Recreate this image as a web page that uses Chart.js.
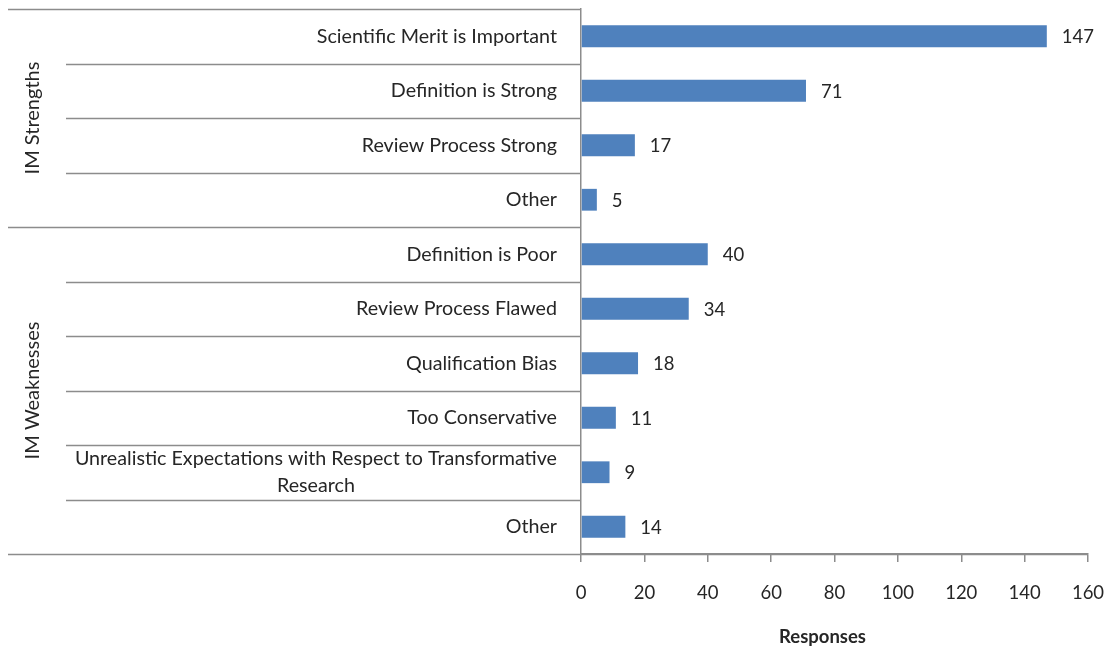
<!DOCTYPE html>
<html>
<head>
<meta charset="utf-8">
<script src="https://cdn.jsdelivr.net/npm/chart.js@4/dist/chart.umd.min.js"></script>
<style>
  html, body { margin: 0; padding: 0; background: #fff; }
  #wrap { width: 1107px; height: 648px; }
</style>
</head>
<body>
<div id="wrap"><canvas id="myChart"></canvas></div>
<script>
const categories = [
  'Scientific Merit is Important',
  'Definition is Strong',
  'Review Process Strong',
  'Other',
  'Definition is Poor',
  'Review Process Flawed',
  'Qualification Bias',
  'Too Conservative',
  ['Unrealistic Expectations with Respect to Transformative', 'Research'],
  'Other'
]
const responses = [147, 71, 17, 5, 40, 34, 18, 11, 9, 14]
const groups = ['IM Strengths', 'IM Weaknesses']
const groupSizes = [4, 6]
const xTicks = { min: 0, max: 160, step: 20 }
const xTitle = 'Responses'

const FONT = 'Lato, "Open Sans", sans-serif'
const TEXT = '#262626'
const LINE = '#8c8c8c'

// draws the category labels, the separator lines, group labels and bar values
const excelAxis = {
  id: 'excelAxis',
  afterDraw (chart) {
    const { ctx, chartArea } = chart
    const y = chart.scales.y
    const half = (y.getPixelForValue(1) - y.getPixelForValue(0)) / 2
    const leftEdge = 8
    const innerEdge = 66

    ctx.save()
    ctx.strokeStyle = LINE
    ctx.lineWidth = 1.5

    // group start indices
    const starts = []
    let s = 0
    groupSizes.forEach(n => { starts.push(s); s += n })

    for (let i = 0; i <= categories.length; i++) {
      const py = Math.round(y.getPixelForValue(i) - half) + 0.5
      const x0 = (starts.includes(i) || i === categories.length) ? leftEdge : innerEdge
      const x1 = i === categories.length ? chartArea.right : chartArea.left
      ctx.beginPath()
      ctx.moveTo(x0, py)
      ctx.lineTo(x1, py)
      ctx.stroke()
    }

    // category labels
    ctx.fillStyle = TEXT
    ctx.font = '19.7px ' + FONT
    ctx.textBaseline = 'middle'
    const labelRight = chartArea.left - 24
    categories.forEach((c, i) => {
      const cy = y.getPixelForValue(i)
      if (Array.isArray(c)) {
        const lh = 27
        const w = Math.max(...c.map(t => ctx.measureText(t).width))
        const cx = labelRight - w / 2
        ctx.textAlign = 'center'
        c.forEach((t, k) => {
          ctx.fillText(t, cx, cy + (k - (c.length - 1) / 2) * lh)
        })
      } else {
        ctx.textAlign = 'right'
        ctx.fillText(c, labelRight, cy)
      }
    })

    // group labels, rotated
    ctx.font = '20px ' + FONT
    starts.forEach((st, g) => {
      const top = y.getPixelForValue(st) - half
      const bottom = y.getPixelForValue(st + groupSizes[g] - 1) + half
      ctx.save()
      ctx.translate(33, (top + bottom) / 2)
      ctx.rotate(-Math.PI / 2)
      ctx.textAlign = 'center'
      ctx.fillText(groups[g], 0, 0)
      ctx.restore()
    })

    // value labels
    ctx.font = '18.5px ' + FONT
    const meta = chart.getDatasetMeta(0)
    ctx.textAlign = 'left'
    meta.data.forEach((bar, i) => {
      ctx.fillText(String(responses[i]), bar.x + 15, bar.y + 1)
    })

    // axis title, centred a little left of the plot centre as in the original
    ctx.font = 'bold 18.5px ' + FONT
    ctx.textAlign = 'center'
    ctx.fillText(xTitle, (chartArea.left + chartArea.right) / 2 - 12, 637)
    ctx.restore()
  }
}

new Chart(document.getElementById('myChart'), {
  type: 'bar',
  data: {
    labels: categories,
    datasets: [{
      data: responses,
      backgroundColor: '#4f81bd',
      borderWidth: 0,
      categoryPercentage: 1,
      barPercentage: 0.4
    }]
  },
  options: {
    indexAxis: 'y',
    responsive: true,
    maintainAspectRatio: false,
    animation: false,
    layout: { padding: { top: 9, right: 19, left: 0, bottom: 0 } },
    plugins: {
      legend: { display: false },
      tooltip: { enabled: false }
    },
    scales: {
      x: {
        min: xTicks.min,
        max: xTicks.max,
        ticks: {
          stepSize: xTicks.step,
          color: TEXT,
          padding: 20,
          font: { family: FONT, size: 18.5 }
        },
        grid: {
          drawOnChartArea: false,
          drawTicks: true,
          tickLength: 8,
          color: LINE,
          lineWidth: 1.5
        },
        border: { display: true, color: LINE, width: 1.5 },
        afterFit (scale) {
          scale.height = 94
          scale.paddingLeft = 0
          scale.paddingRight = 0
        }
      },
      y: {
        ticks: { display: false },
        grid: { display: false },
        border: { display: true, color: LINE, width: 1.5 },
        afterFit (scale) { scale.width = 581 }
      }
    }
  },
  plugins: [excelAxis]
})
</script>
</body>
</html>
